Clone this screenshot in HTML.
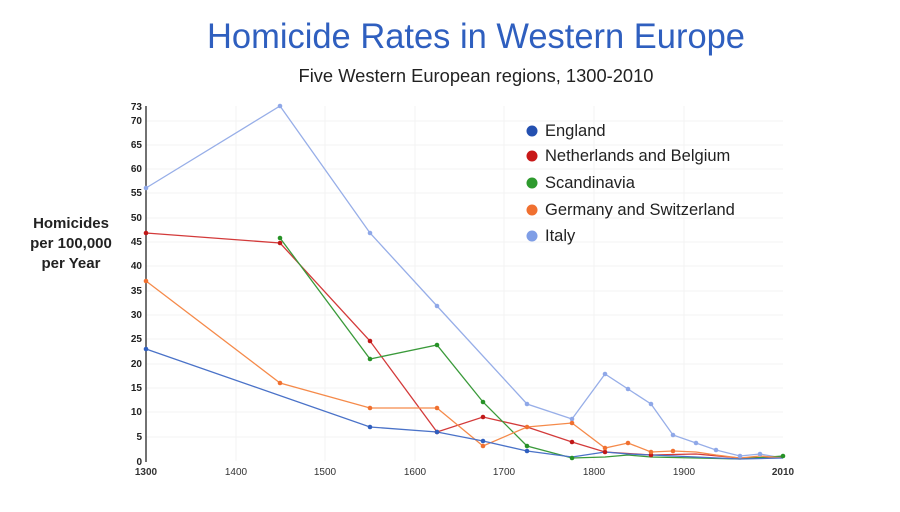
<!DOCTYPE html>
<html><head><style>
body{margin:0;width:900px;height:507px;background:#fff;overflow:hidden;font-family:"Liberation Sans",sans-serif}
</style></head><body>
<svg width="900" height="507" xmlns="http://www.w3.org/2000/svg" font-family="Liberation Sans, sans-serif">
<text x="476" y="48" text-anchor="middle" font-size="35" fill="#2f5fbf" textLength="538" lengthAdjust="spacingAndGlyphs">Homicide Rates in Western Europe</text>
<text x="476" y="82" text-anchor="middle" font-size="18" fill="#222" textLength="355" lengthAdjust="spacingAndGlyphs">Five Western European regions, 1300-2010</text>
<g font-size="15" font-weight="bold" fill="#222" text-anchor="middle">
<text x="71" y="228">Homicides</text><text x="71" y="248">per 100,000</text><text x="71" y="268">per Year</text></g>
<g stroke="#f3f3f3" stroke-width="1">
<line x1="236" y1="106" x2="236" y2="461"/><line x1="325" y1="106" x2="325" y2="461"/><line x1="415" y1="106" x2="415" y2="461"/><line x1="504" y1="106" x2="504" y2="461"/><line x1="594" y1="106" x2="594" y2="461"/><line x1="684" y1="106" x2="684" y2="461"/>
<line x1="146" y1="437" x2="783" y2="437"/><line x1="146" y1="412" x2="783" y2="412"/><line x1="146" y1="388" x2="783" y2="388"/><line x1="146" y1="364" x2="783" y2="364"/><line x1="146" y1="339" x2="783" y2="339"/><line x1="146" y1="315" x2="783" y2="315"/><line x1="146" y1="291" x2="783" y2="291"/><line x1="146" y1="266" x2="783" y2="266"/><line x1="146" y1="242" x2="783" y2="242"/><line x1="146" y1="218" x2="783" y2="218"/><line x1="146" y1="193" x2="783" y2="193"/><line x1="146" y1="169" x2="783" y2="169"/><line x1="146" y1="145" x2="783" y2="145"/><line x1="146" y1="121" x2="783" y2="121"/>
</g>
<line x1="146" y1="106" x2="146" y2="462" stroke="#444" stroke-width="1.5"/>
<g font-size="10" font-weight="bold" fill="#222" text-anchor="end">
<text x="142" y="110">73</text><text x="142" y="124">70</text><text x="142" y="148">65</text><text x="142" y="172">60</text><text x="142" y="196">55</text><text x="142" y="221">50</text><text x="142" y="245">45</text><text x="142" y="269">40</text><text x="142" y="294">35</text><text x="142" y="318">30</text><text x="142" y="342">25</text><text x="142" y="367">20</text><text x="142" y="391">15</text><text x="142" y="415">10</text><text x="142" y="440">5</text><text x="142" y="465">0</text></g>
<g font-size="10" fill="#333" text-anchor="middle">
<text x="146" y="475" font-weight="bold">1300</text><text x="236" y="475">1400</text><text x="325" y="475">1500</text><text x="415" y="475">1600</text><text x="504" y="475">1700</text><text x="594" y="475">1800</text><text x="684" y="475">1900</text><text x="783" y="475" font-weight="bold">2010</text></g>
<g fill="none" stroke-width="1.3">
<polyline stroke="#97aee8" points="146,188 280,106 370,233 437,306 527,404 572,419 605,374 628,389 651,404 673,435 696,443 716,450 740,456 760,454 783,458"/>
<polyline stroke="#d33a3a" points="146,233 280,243 370,341 437,432 483,417 527,427 572,442 605,452 651,455 696,454 740,458 783,457"/>
<polyline stroke="#3a9a3a" points="280,238 370,359 437,345 483,402 527,446 572,458 605,457 628,455 651,457 696,458 740,459 783,456"/>
<polyline stroke="#f58a4a" points="146,281 280,383 370,408 437,408 483,446 527,427 572,423 605,448 628,443 651,452 673,451 696,452 716,455 740,458 760,456 783,458"/>
<polyline stroke="#4a72c8" points="146,349 370,427 437,432 483,441 527,451 572,457 605,452 628,454 651,455 696,457 740,459 783,458"/>
</g>
<g fill="#8fa8e8">
<circle cx="146" cy="188" r="2.3"/><circle cx="280" cy="106" r="2.3"/><circle cx="370" cy="233" r="2.3"/><circle cx="437" cy="306" r="2.3"/><circle cx="527" cy="404" r="2.3"/><circle cx="572" cy="419" r="2.3"/><circle cx="605" cy="374" r="2.3"/><circle cx="628" cy="389" r="2.3"/><circle cx="651" cy="404" r="2.3"/><circle cx="673" cy="435" r="2.3"/><circle cx="696" cy="443" r="2.3"/><circle cx="716" cy="450" r="2.3"/><circle cx="740" cy="456" r="2.3"/><circle cx="760" cy="454" r="2.3"/></g>
<g fill="#c01818"><circle cx="146" cy="233" r="2.3"/><circle cx="280" cy="243" r="2.3"/><circle cx="370" cy="341" r="2.3"/><circle cx="437" cy="432" r="2.3"/><circle cx="483" cy="417" r="2.3"/><circle cx="572" cy="442" r="2.3"/><circle cx="605" cy="452" r="2.3"/><circle cx="651" cy="455" r="2.3"/></g>
<g fill="#279227"><circle cx="280" cy="238" r="2.3"/><circle cx="370" cy="359" r="2.3"/><circle cx="437" cy="345" r="2.3"/><circle cx="483" cy="402" r="2.3"/><circle cx="527" cy="446" r="2.3"/><circle cx="572" cy="458" r="2.3"/><circle cx="783" cy="456" r="2.3"/></g>
<g fill="#f07030"><circle cx="146" cy="281" r="2.3"/><circle cx="280" cy="383" r="2.3"/><circle cx="370" cy="408" r="2.3"/><circle cx="437" cy="408" r="2.3"/><circle cx="483" cy="446" r="2.3"/><circle cx="527" cy="427" r="2.3"/><circle cx="572" cy="423" r="2.3"/><circle cx="605" cy="448" r="2.3"/><circle cx="628" cy="443" r="2.3"/><circle cx="651" cy="452" r="2.3"/><circle cx="673" cy="451" r="2.3"/></g>
<g fill="#2f5fbf"><circle cx="146" cy="349" r="2.3"/><circle cx="370" cy="427" r="2.3"/><circle cx="437" cy="432" r="2.3"/><circle cx="483" cy="441" r="2.3"/><circle cx="527" cy="451" r="2.3"/></g>
<g font-size="16.5" fill="#222">
<circle cx="532" cy="131" r="5.5" fill="#2450b0"/><text x="545" y="136">England</text>
<circle cx="532" cy="156" r="5.5" fill="#c81818"/><text x="545" y="161">Netherlands and Belgium</text>
<circle cx="532" cy="183" r="5.5" fill="#2e9a2e"/><text x="545" y="188">Scandinavia</text>
<circle cx="532" cy="210" r="5.5" fill="#f07030"/><text x="545" y="215">Germany and Switzerland</text>
<circle cx="532" cy="236" r="5.5" fill="#7f9ee6"/><text x="545" y="241">Italy</text>
</g>
</svg>
</body></html>
